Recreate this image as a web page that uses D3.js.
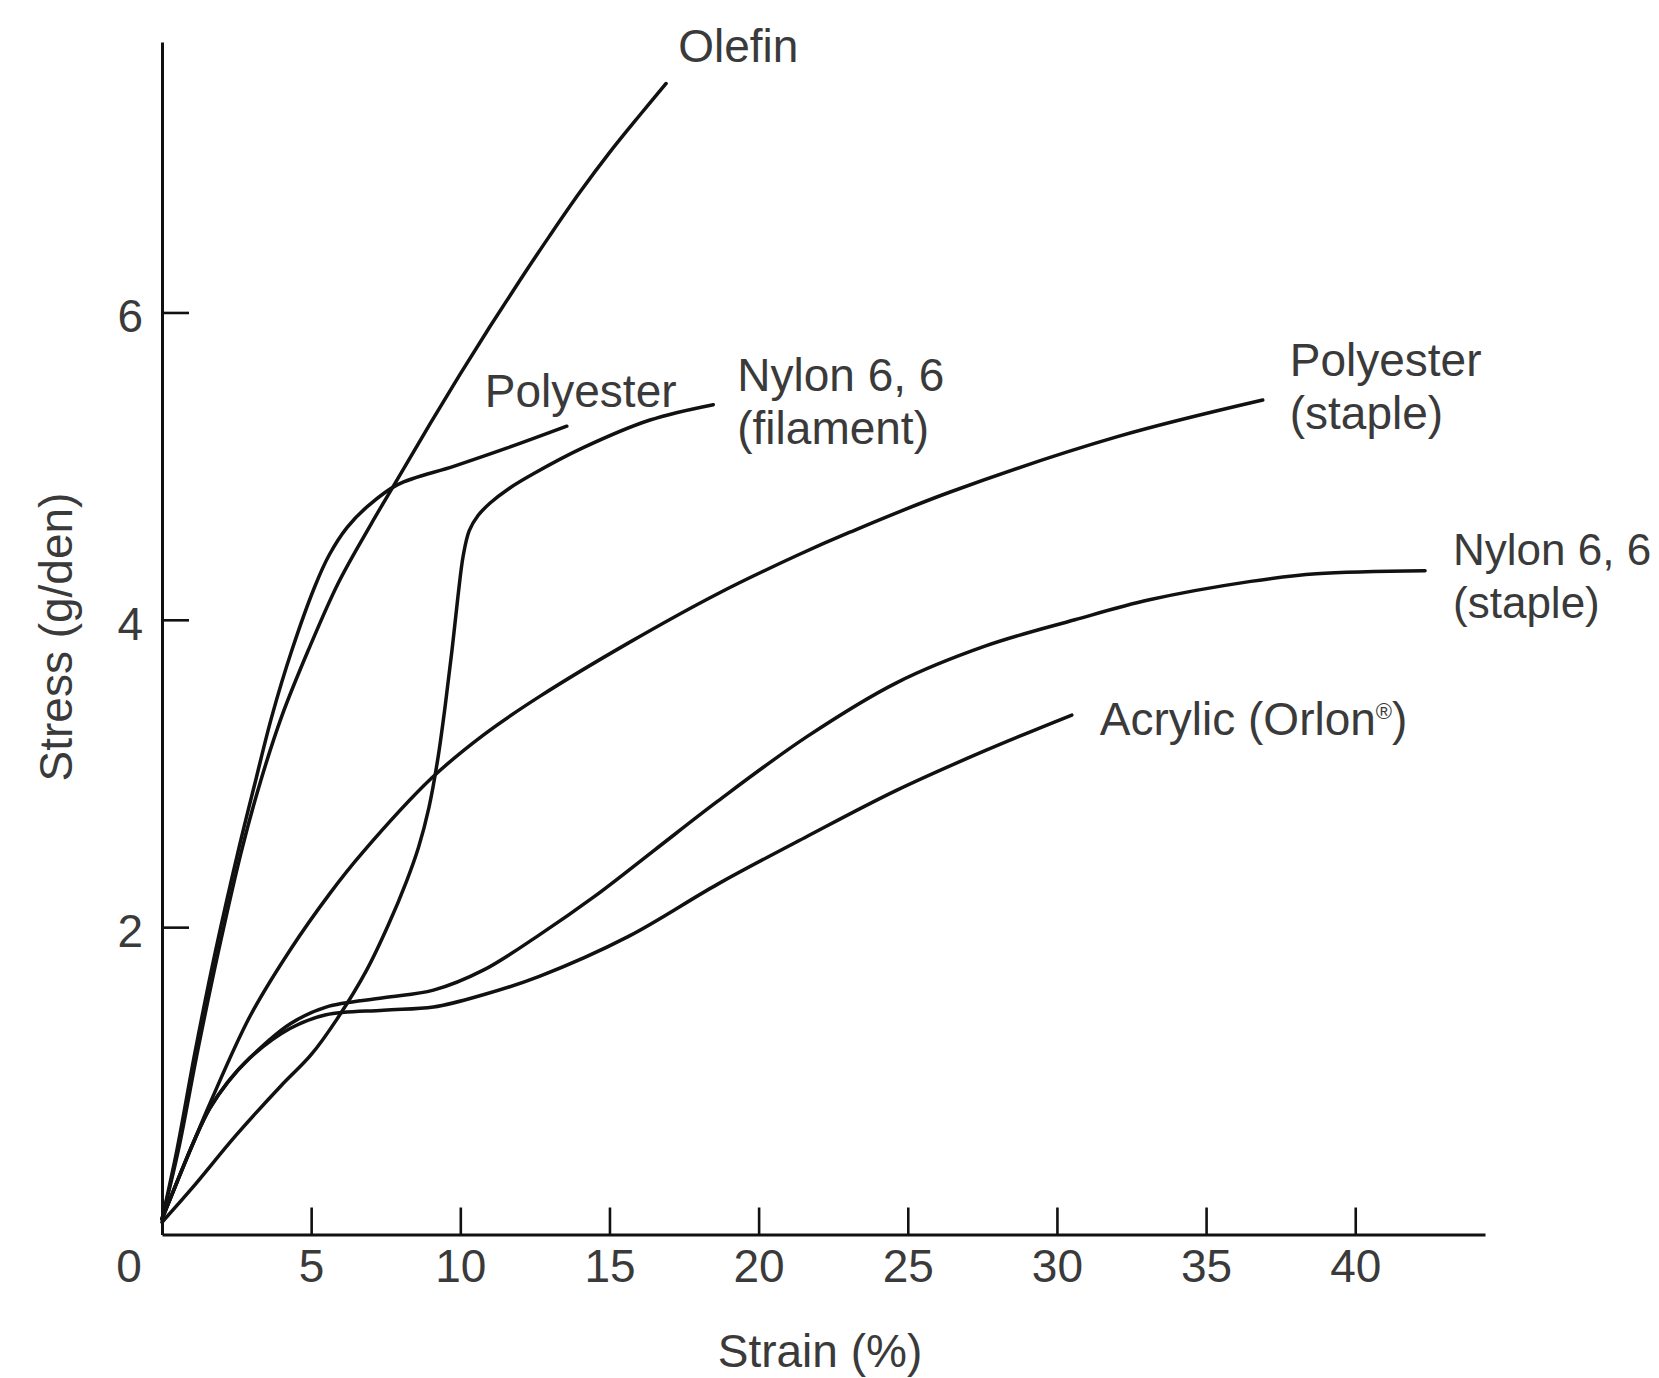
<!DOCTYPE html>
<html>
<head>
<meta charset="utf-8">
<script src="https://cdn.jsdelivr.net/npm/d3@7"></script>
<style>
  html, body { margin: 0; padding: 0; background: #fff; }
  svg { display: block; }
  text { font-family: "Liberation Sans", Arial, Helvetica, sans-serif; fill: #3a3a3a; }
</style>
</head>
<body>
<svg id="chart" width="1659" height="1378"></svg>
<script>
// Stress–strain curves of common textile fibres: [strain %, stress g/den]
const olefin = [[0,0.1],[0.55,0.55],[1.2,1.2],[1.9,1.85],[2.67,2.5],[3.29,2.94],[4.01,3.37],[4.9,3.8],[5.91,4.24],[7.0,4.62],[7.91,4.92],[9,5.28],[10,5.6],[11,5.91],[12,6.21],[13,6.5],[14,6.78],[15,7.04],[16,7.28],[16.9,7.49]];
const polyesterFilament = [[0,0.1],[0.5,0.55],[1.12,1.2],[1.8,1.85],[2.56,2.5],[3.12,2.94],[3.68,3.37],[4.35,3.8],[5.13,4.22],[5.6,4.42],[6.2,4.6],[6.9,4.74],[7.9,4.88],[9.8,5.0],[11.6,5.12],[13.57,5.26]];
const nylonFilament = [[0,0.08],[1,0.3],[2.5,0.65],[4,0.97],[5,1.17],[5.86,1.4],[6.86,1.72],[7.6,2.02],[8.2,2.3],[8.6,2.52],[8.95,2.78],[9.25,3.1],[9.5,3.45],[9.72,3.8],[9.92,4.15],[10.1,4.42],[10.3,4.58],[10.6,4.68],[11.0,4.76],[11.6,4.85],[12.45,4.95],[14.12,5.12],[16.36,5.3],[18.48,5.4]];
const polyesterStaple = [[0,0.1],[0.5,0.34],[1.1,0.62],[1.6,0.85],[2.95,1.42],[4.29,1.85],[5.63,2.22],[6.7,2.48],[9.04,2.97],[10.77,3.25],[12.65,3.5],[15.64,3.85],[18.63,4.17],[21.3,4.42],[23.06,4.57],[26.4,4.83],[32,5.19],[36.9,5.43]];
const nylonStaple = [[0,0.1],[0.5,0.34],[1.1,0.62],[1.6,0.82],[2.2,0.99],[2.95,1.15],[4.29,1.37],[5.5,1.48],[7.42,1.54],[9.1,1.59],[10.77,1.72],[12.65,1.95],[14.5,2.2],[16.5,2.5],[18.63,2.82],[21.62,3.24],[24.62,3.59],[27.61,3.83],[30.6,4.0],[33.1,4.13],[36.5,4.25],[38.7,4.3],[42.34,4.32]];
const acrylic = [[0,0.1],[0.5,0.34],[1.1,0.62],[1.6,0.82],[2.2,0.99],[2.95,1.15],[4.29,1.34],[5.5,1.43],[7.42,1.46],[9.1,1.48],[10.77,1.56],[12.65,1.68],[15.64,1.94],[18.63,2.28],[21.62,2.59],[24.62,2.89],[27.61,3.15],[30.5,3.38]];

const xTicks = [5, 10, 15, 20, 25, 30, 35, 40];
const yTicks = [2, 4, 6];
const xTitle = "Strain (%)";
const yTitle = "Stress (g/den)";

const series = [
  { name: "olefin", values: olefin, label: ["Olefin"], dx: 12, dy: -21 },
  { name: "polyester-filament", values: polyesterFilament, label: ["Polyester"], dx: -82, dy: -19 },
  { name: "nylon-filament", values: nylonFilament, label: ["Nylon 6, 6", "(filament)"], dx: 24, dy: -14 },
  { name: "polyester-staple", values: polyesterStaple, label: ["Polyester", "(staple)"], dx: 27, dy: -24 },
  { name: "nylon-staple", values: nylonStaple, label: ["Nylon 6, 6", "(staple)"], dx: 28, dy: -6, size: 44 },
  { name: "acrylic", values: acrylic, label: ["Acrylic (Orlon"], mark: "®", closing: ")", dx: 28, dy: 20 }
];

const svg = d3.select("#chart");
const x = d3.scaleLinear().domain([0, 44.35]).range([162, 1485]);
const y = d3.scaleLinear().domain([0, 7.76]).range([1234.5, 42]);
const fontSize = 46;
const lineGap = 53;

// x axis with inward ticks
const gx = svg.append("g")
  .attr("transform", `translate(0,${y(0)})`)
  .call(d3.axisBottom(x).tickValues(xTicks).tickSizeInner(-27).tickSizeOuter(0).tickFormat(d3.format("d")));
gx.select(".domain").attr("stroke", "#111").attr("stroke-width", 3);
gx.selectAll(".tick line").attr("stroke", "#111").attr("stroke-width", 2.6);
gx.selectAll(".tick text")
  .attr("y", 47.5).attr("dy", null)
  .attr("font-size", fontSize).attr("fill", "#3a3a3a")
  .style("font-family", "'Liberation Sans', Arial, sans-serif");

// origin label sits left of the axis corner
svg.append("text")
  .attr("x", x(0) - 33).attr("y", y(0) + 47.5)
  .attr("text-anchor", "middle").attr("font-size", fontSize)
  .text("0");

// y axis with inward ticks
const gy = svg.append("g")
  .attr("transform", `translate(${x(0)},0)`)
  .call(d3.axisLeft(y).tickValues(yTicks).tickSizeInner(-27).tickSizeOuter(0).tickFormat(d3.format("d")));
gy.select(".domain").attr("stroke", "#111").attr("stroke-width", 3);
gy.selectAll(".tick line").attr("stroke", "#111").attr("stroke-width", 2.6);
gy.selectAll(".tick text")
  .attr("x", -19).attr("dy", "0.42em")
  .attr("font-size", fontSize).attr("fill", "#3a3a3a")
  .style("font-family", "'Liberation Sans', Arial, sans-serif");

// curves
const line = d3.line()
  .x(d => x(d[0]))
  .y(d => y(d[1]))
  .curve(d3.curveCatmullRom.alpha(0.5));

svg.append("g").selectAll("path")
  .data(series)
  .join("path")
  .attr("class", d => "curve " + d.name)
  .attr("d", d => line(d.values))
  .attr("fill", "none")
  .attr("stroke", "#111")
  .attr("stroke-width", 3.5)
  .attr("stroke-linecap", "round")
  .attr("stroke-linejoin", "round");

// curve labels, placed from each curve's end point
const labels = svg.append("g").selectAll("text")
  .data(series)
  .join("text")
  .attr("font-size", d => d.size || fontSize)
  .attr("x", d => x(d.values[d.values.length - 1][0]) + d.dx)
  .attr("y", d => y(d.values[d.values.length - 1][1]) + d.dy);

labels.each(function(d) {
  const t = d3.select(this);
  const x0 = x(d.values[d.values.length - 1][0]) + d.dx;
  d.label.forEach((s, i) => {
    t.append("tspan").attr("x", x0).attr("dy", i === 0 ? 0 : lineGap).text(s);
  });
  if (d.mark) {
    t.append("tspan").attr("font-size", 22).attr("dy", -16).text(d.mark);
    t.append("tspan").attr("dy", 16).text(d.closing);
  }
});

// axis titles
svg.append("text")
  .attr("x", 820).attr("y", 1367)
  .attr("text-anchor", "middle").attr("font-size", fontSize)
  .text(xTitle);

svg.append("text")
  .attr("transform", "translate(71.5,637) rotate(-90)")
  .attr("text-anchor", "middle").attr("font-size", fontSize)
  .text(yTitle);
</script>
</body>
</html>
